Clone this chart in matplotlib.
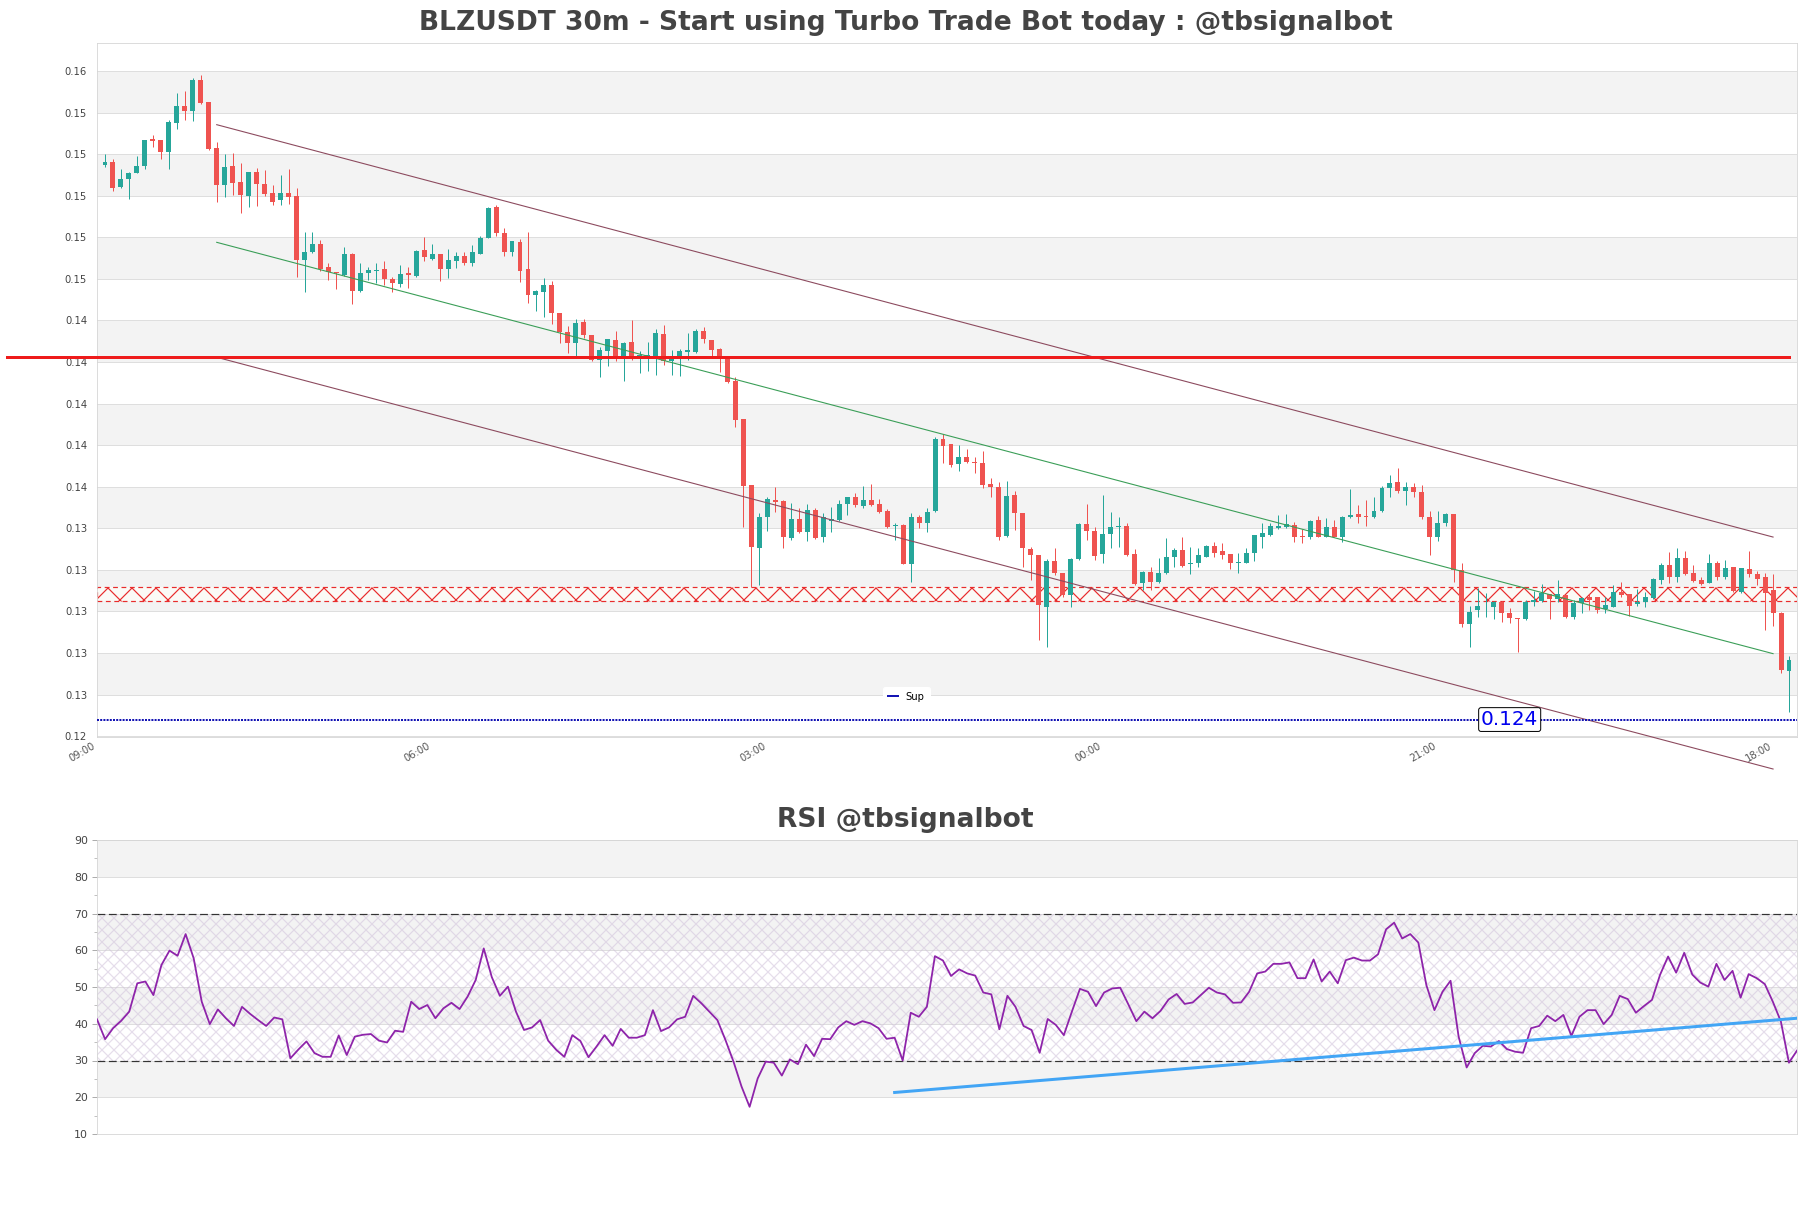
import numpy as np
import matplotlib.pyplot as plt
from matplotlib.lines import Line2D

# 30m candles, oldest first (first candle 09:30)
opens = [
    0.15068, 0.15082, 0.14964, 0.14999, 0.15031, 0.15063, 0.15192, 0.15188, 0.15132, 0.15272,
    0.15352, 0.15329, 0.15477, 0.15371, 0.15148, 0.14972, 0.15063, 0.14986, 0.14920, 0.15034,
    0.14977, 0.14932, 0.14901, 0.14932, 0.14919, 0.14611, 0.14648, 0.14686, 0.14576, 0.14552,
    0.14539, 0.14641, 0.14460, 0.14547, 0.14556, 0.14566, 0.14519, 0.14495, 0.14547, 0.14534,
    0.14659, 0.14617, 0.14640, 0.14566, 0.14608, 0.14630, 0.14598, 0.14641, 0.14718, 0.14867,
    0.14742, 0.14651, 0.14699, 0.14568, 0.14444, 0.14458, 0.14491, 0.14354, 0.14264, 0.14210,
    0.14313, 0.14250, 0.14130, 0.14174, 0.14226, 0.14143, 0.14218, 0.14143, 0.14143, 0.14146,
    0.14255, 0.14126, 0.14143, 0.14168, 0.14168, 0.14268, 0.14226, 0.14181, 0.14143, 0.14029,
    0.13844, 0.13528, 0.13224, 0.13373, 0.13456, 0.13453, 0.13272, 0.13363, 0.13304, 0.13408,
    0.13277, 0.13356, 0.13360, 0.13435, 0.13469, 0.13429, 0.13456, 0.13435, 0.13404, 0.13331,
    0.13336, 0.13148, 0.13376, 0.13347, 0.13404, 0.13751, 0.13725, 0.13629, 0.13664, 0.13640,
    0.13633, 0.13532, 0.13517, 0.13283, 0.13480, 0.13392, 0.13219, 0.13191, 0.12943, 0.13164,
    0.13103, 0.12999, 0.13171, 0.13340, 0.13308, 0.13196, 0.13292, 0.13327, 0.13331, 0.13196,
    0.13055, 0.13111, 0.13063, 0.13106, 0.13180, 0.13215, 0.13148, 0.13154, 0.13183, 0.13235,
    0.13211, 0.13196, 0.13151, 0.13154, 0.13200, 0.13279, 0.13288, 0.13323, 0.13327, 0.13334,
    0.13283, 0.13277, 0.13360, 0.13279, 0.13324, 0.13279, 0.13373, 0.13389, 0.13379, 0.13373,
    0.13403, 0.13512, 0.13541, 0.13501, 0.13517, 0.13496, 0.13376, 0.13279, 0.13347, 0.13389,
    0.13119, 0.12859, 0.12927, 0.12940, 0.12943, 0.12967, 0.12911, 0.12887, 0.12882, 0.12964,
    0.12971, 0.13002, 0.12978, 0.12999, 0.12894, 0.12959, 0.12991, 0.12988, 0.12930, 0.12943,
    0.13015, 0.13002, 0.12955, 0.12967, 0.12983, 0.13071, 0.13143, 0.13087, 0.13175, 0.13106,
    0.13071, 0.13058, 0.13154, 0.13084, 0.13132, 0.13015, 0.13122, 0.13100, 0.13084, 0.13023,
    0.12911, 0.12634,
]
highs = [
    0.15120, 0.15095, 0.15047, 0.15036, 0.15111, 0.15188, 0.15211, 0.15190, 0.15285, 0.15416,
    0.15425, 0.15485, 0.15501, 0.15373, 0.15179, 0.15120, 0.15124, 0.15079, 0.15035, 0.15055,
    0.15044, 0.14970, 0.15020, 0.15050, 0.14956, 0.14744, 0.14744, 0.14707, 0.14595, 0.14554,
    0.14672, 0.14643, 0.14595, 0.14576, 0.14595, 0.14606, 0.14528, 0.14585, 0.14579, 0.14658,
    0.14720, 0.14688, 0.14642, 0.14664, 0.14648, 0.14651, 0.14682, 0.14725, 0.14864, 0.14874,
    0.14765, 0.14704, 0.14710, 0.14744, 0.14465, 0.14523, 0.14511, 0.14357, 0.14293, 0.14327,
    0.14325, 0.14252, 0.14191, 0.14231, 0.14269, 0.14215, 0.14322, 0.14174, 0.14218, 0.14280,
    0.14298, 0.14178, 0.14181, 0.14258, 0.14280, 0.14290, 0.14228, 0.14186, 0.14145, 0.14049,
    0.13846, 0.13530, 0.13395, 0.13469, 0.13520, 0.13455, 0.13440, 0.13416, 0.13435, 0.13416,
    0.13392, 0.13421, 0.13456, 0.13471, 0.13491, 0.13523, 0.13533, 0.13459, 0.13411, 0.13344,
    0.13340, 0.13392, 0.13384, 0.13416, 0.13758, 0.13774, 0.13728, 0.13721, 0.13704, 0.13662,
    0.13693, 0.13560, 0.13544, 0.13549, 0.13501, 0.13394, 0.13228, 0.13193, 0.13171, 0.13224,
    0.13105, 0.13175, 0.13347, 0.13437, 0.13327, 0.13480, 0.13400, 0.13373, 0.13344, 0.13219,
    0.13115, 0.13132, 0.13175, 0.13272, 0.13224, 0.13277, 0.13228, 0.13224, 0.13238, 0.13255,
    0.13248, 0.13198, 0.13200, 0.13224, 0.13290, 0.13344, 0.13344, 0.13384, 0.13389, 0.13350,
    0.13315, 0.13360, 0.13379, 0.13368, 0.13360, 0.13379, 0.13507, 0.13430, 0.13456, 0.13469,
    0.13526, 0.13576, 0.13609, 0.13544, 0.13536, 0.13528, 0.13404, 0.13404, 0.13395, 0.13391,
    0.13154, 0.12946, 0.13031, 0.13010, 0.12969, 0.12969, 0.12935, 0.12889, 0.12975, 0.13020,
    0.13052, 0.13004, 0.13071, 0.13001, 0.12975, 0.12991, 0.13002, 0.12990, 0.12991, 0.13047,
    0.13063, 0.13004, 0.13026, 0.13015, 0.13079, 0.13154, 0.13207, 0.13224, 0.13212, 0.13143,
    0.13084, 0.13196, 0.13164, 0.13167, 0.13134, 0.13129, 0.13212, 0.13115, 0.13103, 0.13100,
    0.12918, 0.12705,
]
lows = [
    0.15060, 0.14944, 0.14956, 0.14903, 0.15028, 0.15047, 0.15156, 0.15095, 0.15047, 0.15243,
    0.15285, 0.15281, 0.15363, 0.15140, 0.14891, 0.14913, 0.14924, 0.14839, 0.14864, 0.14872,
    0.14920, 0.14876, 0.14874, 0.14879, 0.14528, 0.14458, 0.14643, 0.14558, 0.14515, 0.14470,
    0.14534, 0.14398, 0.14455, 0.14515, 0.14499, 0.14491, 0.14455, 0.14482, 0.14475, 0.14531,
    0.14608, 0.14611, 0.14511, 0.14524, 0.14574, 0.14587, 0.14584, 0.14638, 0.14715, 0.14726,
    0.14632, 0.14630, 0.14506, 0.14405, 0.14367, 0.14338, 0.14303, 0.14210, 0.14165, 0.14150,
    0.14234, 0.14126, 0.14046, 0.14102, 0.14126, 0.14030, 0.14130, 0.14066, 0.14078, 0.14058,
    0.14106, 0.14058, 0.14054, 0.14130, 0.14165, 0.14210, 0.14150, 0.14073, 0.14019, 0.13809,
    0.13327, 0.13039, 0.13047, 0.13308, 0.13400, 0.13224, 0.13264, 0.13296, 0.13260, 0.13268,
    0.13255, 0.13304, 0.13356, 0.13384, 0.13424, 0.13416, 0.13429, 0.13392, 0.13320, 0.13264,
    0.13146, 0.13063, 0.13320, 0.13304, 0.13400, 0.13635, 0.13616, 0.13597, 0.13633, 0.13584,
    0.13512, 0.13469, 0.13264, 0.13279, 0.13312, 0.13135, 0.13071, 0.12782, 0.12750, 0.13095,
    0.12991, 0.12943, 0.13167, 0.13264, 0.13167, 0.13154, 0.13224, 0.13231, 0.13186, 0.13047,
    0.13023, 0.13023, 0.13058, 0.13100, 0.13132, 0.13135, 0.13100, 0.13135, 0.13180, 0.13180,
    0.13171, 0.13124, 0.13103, 0.13151, 0.13164, 0.13224, 0.13283, 0.13315, 0.13323, 0.13255,
    0.13248, 0.13267, 0.13277, 0.13277, 0.13277, 0.13253, 0.13371, 0.13347, 0.13331, 0.13368,
    0.13397, 0.13472, 0.13491, 0.13432, 0.13472, 0.13364, 0.13191, 0.13260, 0.13331, 0.13063,
    0.12846, 0.12747, 0.12892, 0.12894, 0.12882, 0.12870, 0.12863, 0.12726, 0.12879, 0.12946,
    0.12967, 0.12882, 0.12967, 0.12887, 0.12882, 0.12911, 0.12927, 0.12914, 0.12914, 0.12940,
    0.12991, 0.12898, 0.12946, 0.12943, 0.12978, 0.13052, 0.13055, 0.13063, 0.13095, 0.13063,
    0.13047, 0.13055, 0.13071, 0.13074, 0.13015, 0.13010, 0.13087, 0.13047, 0.12830, 0.12851,
    0.12623, 0.12437,
]
closes = [
    0.15082, 0.14959, 0.14999, 0.15028, 0.15062, 0.15188, 0.15185, 0.15132, 0.15275, 0.15352,
    0.15329, 0.15477, 0.15366, 0.15144, 0.14972, 0.15058, 0.14983, 0.14924, 0.15033, 0.14978,
    0.14929, 0.14891, 0.14932, 0.14915, 0.14611, 0.14648, 0.14686, 0.14566, 0.14552, 0.14547,
    0.14638, 0.14463, 0.14547, 0.14563, 0.14563, 0.14518, 0.14499, 0.14543, 0.14539, 0.14656,
    0.14624, 0.14640, 0.14569, 0.14611, 0.14630, 0.14598, 0.14649, 0.14718, 0.14863, 0.14739,
    0.14651, 0.14702, 0.14559, 0.14444, 0.14463, 0.14491, 0.14354, 0.14263, 0.14213, 0.14309,
    0.14250, 0.14130, 0.14178, 0.14229, 0.14138, 0.14213, 0.14143, 0.14154, 0.14154, 0.14258,
    0.14126, 0.14143, 0.14174, 0.14178, 0.14271, 0.14229, 0.14178, 0.14143, 0.14025, 0.13841,
    0.13523, 0.13231, 0.13373, 0.13459, 0.13448, 0.13277, 0.13363, 0.13304, 0.13408, 0.13272,
    0.13373, 0.13363, 0.13435, 0.13469, 0.13432, 0.13456, 0.13432, 0.13400, 0.13327, 0.13337,
    0.13148, 0.13373, 0.13344, 0.13400, 0.13751, 0.13717, 0.13624, 0.13664, 0.13640, 0.13633,
    0.13528, 0.13517, 0.13279, 0.13475, 0.13392, 0.13224, 0.13191, 0.12951, 0.13164, 0.13103,
    0.12999, 0.13171, 0.13340, 0.13308, 0.13186, 0.13292, 0.13324, 0.13331, 0.13191, 0.13052,
    0.13111, 0.13063, 0.13106, 0.13183, 0.13215, 0.13138, 0.13154, 0.13191, 0.13235, 0.13202,
    0.13191, 0.13151, 0.13156, 0.13200, 0.13288, 0.13296, 0.13331, 0.13331, 0.13339, 0.13279,
    0.13279, 0.13356, 0.13279, 0.13324, 0.13279, 0.13373, 0.13382, 0.13376, 0.13376, 0.13403,
    0.13512, 0.13536, 0.13501, 0.13517, 0.13496, 0.13374, 0.13279, 0.13344, 0.13389, 0.13119,
    0.12859, 0.12918, 0.12946, 0.12943, 0.12967, 0.12911, 0.12887, 0.12882, 0.12967, 0.12975,
    0.13010, 0.12978, 0.13002, 0.12892, 0.12962, 0.12983, 0.12975, 0.12927, 0.12951, 0.13015,
    0.12999, 0.12946, 0.12967, 0.12991, 0.13076, 0.13143, 0.13087, 0.13175, 0.13100, 0.13068,
    0.13052, 0.13154, 0.13084, 0.13127, 0.13020, 0.13127, 0.13100, 0.13076, 0.13007, 0.12911,
    0.12639, 0.12686,
]

rsi = [
    41.2, 35.8, 38.8, 40.8, 43.3, 51.0, 51.5, 47.8, 56.0, 59.9, 58.5, 64.4, 57.8, 46.0, 39.9,
    43.9, 41.5, 39.4, 44.6, 42.7, 41.0, 39.4, 41.7, 41.2, 30.6, 33.0, 35.2, 32.0, 31.0, 31.0,
    36.8, 31.5, 36.5, 37.0, 37.2, 35.4, 34.9, 38.1, 37.8, 46.0, 44.0, 45.1, 41.5, 44.2, 45.7,
    44.0, 47.4, 51.9, 60.5, 52.7, 47.6,
    50.1, 43.3, 38.3, 39.0, 41.0, 35.4, 32.9, 31.0, 36.9, 35.3, 30.9, 33.8, 36.9, 34.0, 38.6,
    36.2, 36.2, 36.9, 43.7, 38.0, 39.0, 41.2, 41.9, 47.6, 45.6, 43.3, 41.0, 35.6, 29.7, 22.9,
    17.4, 25.1, 29.7, 29.4, 25.9, 30.3, 29.0, 34.3, 31.2, 35.9, 35.8, 39.0, 40.7, 39.7, 40.7,
    40.1, 38.8, 35.9, 36.2, 30.0, 43.0, 41.9,
    44.6, 58.4, 57.2, 53.0, 54.8, 53.7, 53.1, 48.5, 48.0, 38.5, 47.6, 44.6, 39.4, 38.3, 32.1,
    41.3, 39.7, 36.9, 43.3, 49.5, 48.7, 44.8, 48.5, 49.6, 49.8, 45.3, 40.7, 43.3, 41.5, 43.5,
    46.6, 48.1, 45.4, 45.8, 47.8, 49.8, 48.5, 48.0, 45.7, 45.8, 48.7, 53.7, 54.2, 56.3, 56.3,
    56.7, 52.4, 52.4, 57.5, 51.5, 54.2, 51.0, 57.3, 58.0,
    57.2, 57.2, 58.9, 65.7, 67.5, 63.2, 64.4, 62.1, 50.5, 43.7, 48.7, 51.7, 36.5, 28.1, 32.0,
    34.0, 33.8, 35.3, 33.1, 32.4, 32.1, 38.8, 39.4, 42.2, 40.7, 42.4, 36.7, 41.9, 43.7, 43.7,
    39.9, 42.4, 47.6, 46.7, 43.0, 44.8, 46.5, 53.3, 58.3, 53.9, 59.3, 53.4, 51.2, 50.1, 56.3,
    51.9, 54.4, 47.1, 53.5, 52.4, 50.8, 46.0, 40.6, 29.4, 32.7,
]

time_ticks = [-1, 41, 83, 125, 167, 209]
time_labels = ["09:00", "06:00", "03:00", "00:00", "21:00", "18:00"]

resistance = 0.14144
support = 0.124
zone = (0.12968, 0.13038)
channel_x = [14, 209]
channel_upper = [0.15262, 0.13278]
channel_mid = [0.14696, 0.12717]
channel_low = [0.14143, 0.12162]
rsi_trend_x = [99, 211]
rsi_trend_y = [21.3, 41.5]

GREEN = "#26a69a"
RED = "#ef5350"
BAND = "#f3f3f3"
GRID = "#dedede"
SPINE = "#d4d4d4"
SUP_BLUE = "#1414b4"

W, H, DPI = 1811, 1208, 72
fig = plt.figure(figsize=(W / DPI, H / DPI), dpi=DPI)
plt.rcParams["hatch.linewidth"] = 1.2

ax = fig.add_axes([97 / W, 1 - 737 / H, 1700 / W, 694 / H])
ax2 = fig.add_axes([97 / W, 1 - 1134 / H, 1700 / W, 294 / H])

o = np.array(opens)
h = np.array(highs)
l = np.array(lows)
c = np.array(closes)
x = np.arange(len(o))

# ---- price panel ----
price_ticks = np.linspace(0.1232, 0.1552, 17)
ax.set_ylim(0.12316, 0.15655)
ax.set_xlim(-1, len(o))
for k in range(1, 16, 2):
    ax.axhspan(price_ticks[k], price_ticks[k + 1], color=BAND, lw=0, zorder=0)
ax.set_yticks(price_ticks)
ax.yaxis.set_major_formatter(plt.FormatStrFormatter("%.2f"))
ax.yaxis.grid(True, color=GRID, lw=1)
ax.set_axisbelow(True)

ax.axhspan(zone[0], zone[1], facecolor="#fffdf8", alpha=0.7, lw=0, zorder=1)
ax.axhspan(zone[0], zone[1], facecolor="none", edgecolor="#e82c2c", hatch="x",
           lw=1.2, ls=(0, (4, 3)), zorder=1.5)

cols = np.where(c >= o, GREEN, RED)
ax.vlines(x, l, h, colors=cols, lw=1, zorder=2)
body = np.maximum(np.abs(c - o), 0.00003)
ax.bar(x, body, bottom=np.minimum(o, c), width=0.62, color=cols, lw=0, zorder=3)

ax.plot(channel_x, channel_upper, color="#8c4a5e", lw=1.1, zorder=4)
ax.plot(channel_x, channel_mid, color="#3a9e57", lw=1.1, zorder=4)
ax.plot(channel_x, channel_low, color="#8c4a5e", lw=1.1, zorder=4, clip_on=False)

ax.plot([-12.3, len(o) - 1], [resistance, resistance], color="#ee1b1b", lw=3,
        zorder=5, clip_on=False)
ax.axhline(support, color=SUP_BLUE, ls=(0, (1, 0.6)), lw=2, zorder=5)
ax.text(176, support, "0.124", color="#0000ee", fontsize=20, ha="center", va="center",
        zorder=6, bbox=dict(boxstyle="round,pad=0.12", fc="white", ec="black", lw=1))
ax.legend(handles=[Line2D([], [], color=SUP_BLUE, lw=2)], labels=["Sup"],
          loc="center", bbox_to_anchor=(0.476, 0.058), fontsize=10, handlelength=1.0,
          facecolor="white", edgecolor="white", framealpha=1, borderpad=0.5)

ax.set_xticks(time_ticks, time_labels, rotation=30, ha="right")
ax.tick_params(axis="x", length=0, pad=4, labelsize=10, labelcolor="#555555")
ax.tick_params(axis="y", length=0, pad=10, labelsize=10, labelcolor="#444444")
for s in ax.spines.values():
    s.set_color(SPINE)

# ---- RSI panel ----
ax2.set_xlim(0, len(rsi) - 1)
ax2.set_ylim(10, 90)
for lo in (20, 40, 60, 80):
    ax2.axhspan(lo, lo + 10, color=BAND, lw=0, zorder=0)
ax2.set_yticks(range(10, 91, 10))
ax2.set_yticks(range(15, 90, 10), minor=True)
ax2.yaxis.grid(True, color=GRID, lw=1)
ax2.set_axisbelow(True)
ax2.fill_between([0, len(rsi) - 1], 30, 70, facecolor="none",
                 edgecolor=(0.82, 0.76, 0.86, 0.55), hatch="xx", lw=0, zorder=1)
ax2.axhline(70, color="#333333", ls=(0, (6.5, 3)), lw=1.2, zorder=2)
ax2.axhline(30, color="#333333", ls=(0, (6.5, 3)), lw=1.2, zorder=2)
ax2.plot(np.arange(len(rsi)), rsi, color="#8e24aa", lw=1.8, zorder=3)
ax2.plot(rsi_trend_x, rsi_trend_y, color="#42a5f5", lw=3, zorder=4)
ax2.set_xticks([])
ax2.tick_params(axis="y", which="major", length=5, pad=4, labelsize=11,
                labelcolor="#444444", color="#999999")
ax2.tick_params(axis="y", which="minor", length=3, color="#999999")
for s in ax2.spines.values():
    s.set_color(SPINE)

fig.text(0.5, 1 - 23 / H, "BLZUSDT 30m - Start using Turbo Trade Bot today : @tbsignalbot",
         ha="center", va="center", fontsize=26.5, fontweight="bold", color="#444444")
fig.text(0.5, 1 - 820 / H, "RSI @tbsignalbot", ha="center", va="center",
         fontsize=26.5, fontweight="bold", color="#444444")

fig.savefig("out.png", dpi=DPI, facecolor="white")
